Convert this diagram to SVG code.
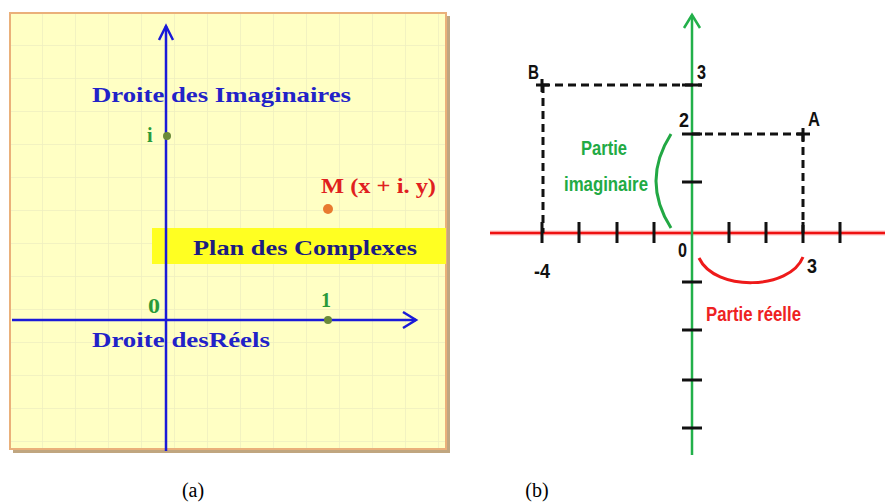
<svg xmlns="http://www.w3.org/2000/svg" width="885" height="503" viewBox="0 0 885 503">
<style>
.ser{font-family:"Liberation Serif","DejaVu Serif",serif;font-weight:bold}
.blue{fill:#2222c8}
.sans{font-family:"Liberation Sans","DejaVu Sans",sans-serif;font-weight:bold}
.blk{fill:#111}
.tick{stroke:#111;stroke-width:3}
.dash{stroke:#111;stroke-width:3;stroke-dasharray:8 5;fill:none}
</style>
<defs>
<pattern id="grid" x="10" y="13" width="33" height="33" patternUnits="userSpaceOnUse">
<rect width="33" height="33" fill="#ffffc4"/>
<path d="M33,0 V33 M0,33 H33" stroke="#eeeec0" stroke-width="1.5" fill="none"/>
</pattern>
</defs>
<rect width="885" height="503" fill="#fff"/>
<g id="panel-a">
<rect x="13" y="16" width="437" height="437" fill="#b09060" opacity="0.8"/>
<rect x="10" y="13" width="436" height="436" fill="url(#grid)" stroke="#eab07a" stroke-width="2"/>
<rect x="152" y="228" width="294" height="36" fill="#ffff22"/>
</g>
<g id="connectors">
<path d="M166,26 V451" stroke="#1a1ad8" stroke-width="2.5" fill="none"/>
<path d="M159,40 L166,26 L173,40" stroke="#1a1ad8" stroke-width="2.5" fill="none"/>
<path d="M12,320 H416" stroke="#1a1ad8" stroke-width="2.5" fill="none"/>
<path d="M403,312 L416,320 L403,328" stroke="#1a1ad8" stroke-width="2.5" fill="none"/>
<path d="M490,233 H885" stroke="#ff9090" stroke-width="5" opacity="0.5"/>
<path d="M490,233 H885" stroke="#ee1111" stroke-width="2.5"/>
<path d="M692,15 V455" stroke="#22b04a" stroke-width="2.5"/>
<path d="M684,28 L692,15 L700,28" stroke="#22b04a" stroke-width="2.5" fill="none"/>
<path class="dash" d="M542,85 H702"/>
<path class="dash" d="M543,85 V233"/>
<path class="dash" d="M692,134 H803"/>
<path class="dash" d="M803,134 V233"/>
<path d="M671,134 Q641,181 671,228" stroke="#22a844" stroke-width="3" fill="none"/>
<path d="M699,258 C715,292 790,290 803,257" stroke="#ee1a1a" stroke-width="3" fill="none"/>
</g>
<g id="ticks">
<path class="tick" d="M542,222V243M579,222V243M617,222V243M654,222V243M729,222V243M766,222V243M803,222V243M840,222V243"/>
<path class="tick" d="M536,85H549M542,79V92M797,134H810M803,128V141"/>
<path class="tick" d="M682,85H702M682,134H702M682,182H702M682,282H702M682,330H702M682,380H702M682,428H702"/>
</g>
<g id="labels-a">
<text class="ser blue" x="92" y="102" font-size="22" textLength="259" lengthAdjust="spacingAndGlyphs">Droite des Imaginaires</text>
<text class="ser" x="147" y="142" font-size="20" fill="#2a9a3a">i</text>
<circle cx="167" cy="136" r="4" fill="#6a8a3a"/>
<text class="ser" x="321" y="193" font-size="20" fill="#e02020" textLength="115" lengthAdjust="spacingAndGlyphs">M (x + i. y)</text>
<circle cx="328" cy="209" r="5" fill="#e87a30"/>
<text class="ser" x="193" y="255" font-size="21" fill="#1c1c80" textLength="224" lengthAdjust="spacingAndGlyphs">Plan des Complexes</text>
<text class="ser" x="148" y="313" font-size="21" fill="#2a9a3a" textLength="12" lengthAdjust="spacingAndGlyphs">0</text>
<text class="ser" x="321" y="307" font-size="21" fill="#2a9a3a" textLength="10" lengthAdjust="spacingAndGlyphs">1</text>
<circle cx="328" cy="320" r="4" fill="#6a8a3a"/>
<text class="ser blue" x="92" y="347" font-size="22" textLength="178" lengthAdjust="spacingAndGlyphs">Droite desRéels</text>
</g>
<g id="labels-b">
<text class="sans blk" x="528" y="79" font-size="20" textLength="11" lengthAdjust="spacingAndGlyphs">B</text>
<text class="sans blk" x="697" y="79" font-size="20" textLength="9" lengthAdjust="spacingAndGlyphs">3</text>
<text class="sans blk" x="679" y="127" font-size="20" textLength="10" lengthAdjust="spacingAndGlyphs">2</text>
<text class="sans blk" x="808" y="126" font-size="20" textLength="12" lengthAdjust="spacingAndGlyphs">A</text>
<text class="sans blk" x="678" y="257" font-size="20" textLength="9" lengthAdjust="spacingAndGlyphs">0</text>
<text class="sans blk" x="534" y="278" font-size="20" textLength="16" lengthAdjust="spacingAndGlyphs">-4</text>
<text class="sans blk" x="807" y="273" font-size="20" textLength="10" lengthAdjust="spacingAndGlyphs">3</text>
<text class="sans" x="581" y="155" font-size="20" fill="#22aa44" textLength="46" lengthAdjust="spacingAndGlyphs">Partie</text>
<text class="sans" x="564" y="191" font-size="20" fill="#22aa44" textLength="84" lengthAdjust="spacingAndGlyphs">imaginaire</text>
<text class="sans" x="706" y="321" font-size="20" fill="#ee2222" textLength="95" lengthAdjust="spacingAndGlyphs">Partie réelle</text>
</g>
<g id="captions">
<text x="193" y="497" font-size="20" text-anchor="middle" font-family="Liberation Serif, serif">(a)</text>
<text x="537" y="497" font-size="20" text-anchor="middle" font-family="Liberation Serif, serif">(b)</text>
</g>
</svg>
